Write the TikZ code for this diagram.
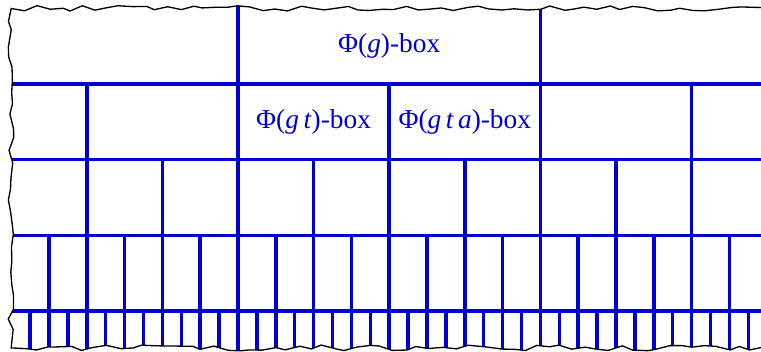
\documentclass[tikz,border=0pt]{standalone}
\usepackage{fontspec}
\setmainfont{Liberation Serif}
\usetikzlibrary{decorations.pathmorphing}
\definecolor{gridblue}{HTML}{0000D0}

\begin{document}
\begin{tikzpicture}[
  x=1cm, y=1cm,
  gridline/.style={draw=gridblue, line width=1.3pt},
  torn/.style={decoration={random steps, segment length=4.5pt, amplitude=1.1pt}},
  edge/.style={draw=black, line width=0.5pt},
  boxlabel/.style={text=gridblue, font=\fontsize{10.3}{12}\selectfont},
]

\useasboundingbox (-0.148,-0.544) rectangle (9.918,4.112);

% === GRID (clipped by the torn edge) ===
\begin{scope}
  \pgfmathsetseed{11}
  \clip (10.3,4) decorate[torn]{-- (0,4) -- (0,-0.49) -- (10.3,-0.49)} -- cycle;

  % level lines
  \foreach \y in {0,1,2,3}
    \draw[gridline] (-0.2,\y) -- (10.3,\y);

  % top row
  \foreach \x in {3,7}
    \draw[gridline] (\x,3) -- (\x,4.2);
  % second row
  \foreach \x in {1,3,...,9}
    \draw[gridline] (\x,2) -- (\x,3);
  % third row
  \foreach \x in {1,...,9}
    \draw[gridline] (\x,1) -- (\x,2);
  % fourth row
  \foreach \x in {0.5,1,...,9.5}
    \draw[gridline] (\x,0) -- (\x,1);
  % bottom row
  \foreach \x in {0.25,0.5,...,9.75}
    \draw[gridline] (\x,-0.7) -- (\x,0);
\end{scope}

% === TORN EDGE ===
\pgfmathsetseed{11}
\draw[edge] (10.3,4) decorate[torn]{-- (0,4) -- (0,-0.49) -- (10.3,-0.49)} -- cycle;

% === LABELS ===
\node[boxlabel] (gbox) at (5,3.5) {Φ(\textit{g})-box};
\node[boxlabel] (gtbox) at (4,2.5) {Φ(\textit{g\,t})-box};
\node[boxlabel] (gtabox) at (6,2.5) {Φ(\textit{g\,t\,a})-box};

\end{tikzpicture}
\end{document}
